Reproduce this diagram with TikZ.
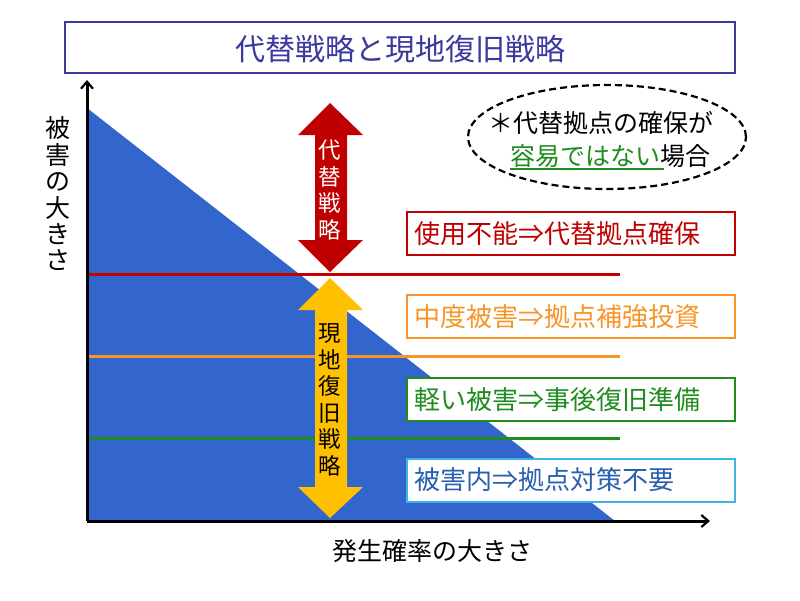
\documentclass[tikz,border=0pt]{standalone}
\usepackage{fontspec}
\setmainfont{Noto Sans CJK JP}
\usetikzlibrary{arrows.meta}
\definecolor{titleblue}{RGB}{58,58,158}
\definecolor{fillblue}{RGB}{51,102,204}
\definecolor{redc}{RGB}{192,0,0}
\definecolor{yellowc}{RGB}{255,192,0}
\definecolor{orangec}{RGB}{247,150,40}
\definecolor{greenc}{RGB}{30,140,30}
\definecolor{skyc}{RGB}{60,180,230}
\definecolor{bluetext}{RGB}{40,95,175}
\tikzset{
  levelbox/.style={draw=#1, line width=2pt, fill=white, minimum width=328pt, minimum height=43pt, anchor=west, inner sep=0pt},
  boxtext/.style={text=#1, font=\fontsize{26}{30}\selectfont, anchor=west, inner sep=0pt},
  level/.style={draw=#1, line width=3pt},
  axis/.style={line width=3pt, -{Straight Barb[length=7pt,width=12pt,line width=2.2pt]}},
  vtext/.style={align=center, inner sep=0pt, font=\fontsize{22.5}{26.5}\selectfont}
}
\begin{document}
\begin{tikzpicture}[x=1pt,y=-1pt]
\useasboundingbox (0,0) rectangle (800,600);
\fill[white] (0,0) rectangle (800,600);
% title
\node[draw=titleblue, line width=2.2pt, minimum width=670pt, minimum height=51pt, inner sep=0pt] (title) at (400,47.5) {};
\node[text=titleblue, font=\fontsize{30}{34}\selectfont] (titletext) at (400,49) {代替戦略と現地復旧戦略};
% triangle
\fill[fillblue] (87,108) -- (615,521) -- (87,521) -- cycle;
% level lines
\coordinate (rl) at (87,274); \coordinate (rr) at (620,274);
\coordinate (ol) at (87,356); \coordinate (or) at (620,356);
\coordinate (gl) at (87,438); \coordinate (gr) at (620,438);
\draw[level=redc] (rl) -- (rr);
\draw[level=orangec] (ol) -- (or);
\draw[level=greenc] (gl) -- (gr);
% axes
\coordinate (origin) at (87,521);
\coordinate (ytop) at (87,80);
\coordinate (xend) at (710,521);
\draw[axis] (origin) -- (ytop);
\draw[axis] (origin) -- (xend);
\node[vtext, font=\fontsize{25}{26.4}\selectfont] (ylabel) at (58,194) {被\\害\\の\\大\\き\\さ};
\node[font=\fontsize{25}{28}\selectfont] (xlabel) at (432,551) {発生確率の大きさ};
% red double arrow
\fill[redc] (330,103) -- (363,135) -- (347,135) -- (347,240) -- (363,240) -- (330,272) -- (298,240) -- (315,240) -- (315,135) -- (298,135) -- cycle;
\node[vtext, text=white] (redtext) at (330,190) {代\\替\\戦\\略};
% yellow double arrow
\fill[yellowc] (330,278) -- (363,310) -- (347,310) -- (347,487) -- (363,487) -- (330,518) -- (298,487) -- (315,487) -- (315,310) -- (298,310) -- cycle;
\node[vtext, text=black] (yellowtext) at (330,400) {現\\地\\復\\旧\\戦\\略};
% ellipse
\draw[line width=2.2pt, dash pattern=on 7pt off 4pt] (607,137) ellipse [x radius=139pt, y radius=52pt];
\node[font=\fontsize{25}{28}\selectfont, anchor=west, inner sep=0pt] (el1) at (488,123) {＊代替拠点の確保が};
\node[font=\fontsize{25}{28}\selectfont, anchor=west, inner sep=0pt] (el2) at (510,156) {\textcolor{greenc}{容易ではない}場合};
\draw[greenc, line width=1.5pt] (510,169) -- (664,169);
% level boxes
\node[levelbox=redc] (b1) at (406,233.5) {};
\node[boxtext=redc] (t1) at (414,233.5) {使用不能⇒代替拠点確保};
\node[levelbox=orangec] (b2) at (406,316.5) {};
\node[boxtext=orangec] (t2) at (414,316.5) {中度被害⇒拠点補強投資};
\node[levelbox=greenc] (b3) at (406,399.5) {};
\node[boxtext=greenc] (t3) at (414,399.5) {軽い被害⇒事後復旧準備};
\node[levelbox=skyc] (b4) at (406,480) {};
\node[boxtext=bluetext] (t4) at (414,480) {被害内⇒拠点対策不要};
\end{tikzpicture}
\end{document}
